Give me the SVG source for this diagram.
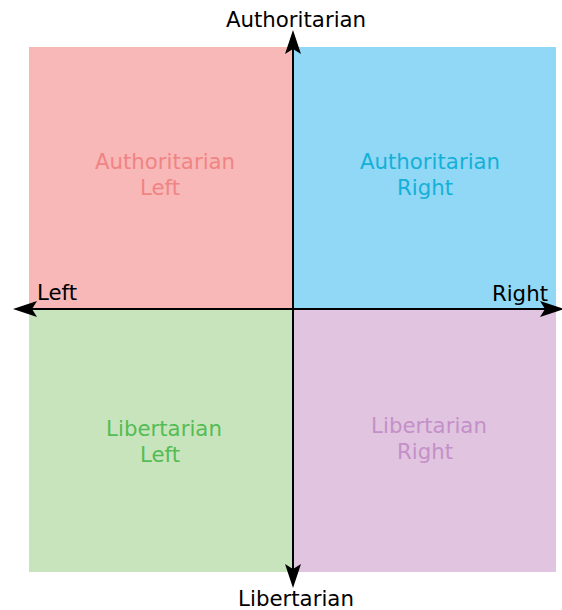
<svg xmlns="http://www.w3.org/2000/svg" width="562" height="610" viewBox="0 0 562 610">
<style>
text{font-family:"DejaVu Sans",sans-serif;font-size:21.3px;text-anchor:middle}
.ax{fill:#000}
.axis{stroke:#000;stroke-width:2;fill:none}
.head{fill:#000}
</style>
<rect width="562" height="610" fill="#fff"/>
<g id="authleft"><rect x="29" y="47" width="264" height="262" fill="#f8b8b8"/><text x="165" y="169" fill="#f08484">Authoritarian</text><text x="160" y="195" fill="#f08484">Left</text></g>
<g id="authright"><rect x="293" y="47" width="263" height="262" fill="#90d8f6"/><text x="430" y="169" fill="#14b0d8">Authoritarian</text><text x="425" y="195" fill="#14b0d8">Right</text></g>
<g id="libleft"><rect x="29" y="309" width="264" height="263" fill="#c8e4bc"/><text x="164" y="436" fill="#54bc54">Libertarian</text><text x="160" y="462" fill="#54bc54">Left</text></g>
<g id="libright"><rect x="293" y="309" width="263" height="263" fill="#e0c4e0"/><text x="429" y="433" fill="#c490c8">Libertarian</text><text x="425" y="459" fill="#c490c8">Right</text></g>
<g id="connectors">
<line class="axis" x1="30" y1="309" x2="548" y2="309"/>
<line class="axis" x1="293" y1="48" x2="293" y2="572"/>
<path class="head" d="M13 309 L37 301 L32 309 L37 317 Z"/>
<path class="head" d="M564 309 L540 301 L545 309 L540 317 Z"/>
<path class="head" d="M293 30 L285 54 L293 49 L301 54 Z"/>
<path class="head" d="M293 588 L285 564 L293 569 L301 564 Z"/>
</g>
<g id="labels">
<text class="ax" x="296" y="27">Authoritarian</text>
<text class="ax" x="296" y="606">Libertarian</text>
<text class="ax" x="37" y="300" style="text-anchor:start">Left</text>
<text class="ax" x="548" y="301" style="text-anchor:end">Right</text>
</g>
</svg>
